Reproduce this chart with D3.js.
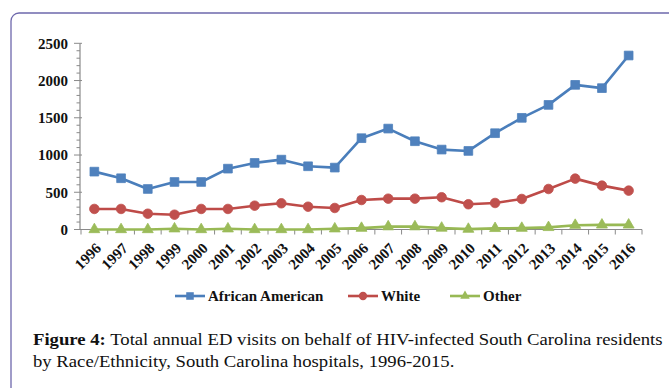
<!DOCTYPE html>
<html>
<head>
<meta charset="utf-8">
<script src="https://cdn.jsdelivr.net/npm/d3@7"></script>
<style>
  html, body { margin: 0; padding: 0; background: #fff; }
  svg { display: block; }
</style>
</head>
<body>
<svg id="chart" width="669" height="388"></svg>
<script>
const years = ["1996","1997","1998","1999","2000","2001","2002","2003","2004","2005","2006","2007","2008","2009","2010","2011","2012","2013","2014","2015","2016"];
const africanAmerican = [777, 688, 544, 638, 638, 817, 894, 938, 849, 831, 1226, 1355, 1185, 1073, 1055, 1293, 1499, 1673, 1942, 1898, 2336];
const white = [276, 276, 212, 199, 276, 276, 320, 352, 306, 289, 396, 414, 414, 433, 339, 356, 410, 544, 683, 589, 522];
const other = [0, 0, 0, 10, 0, 10, 0, 0, 0, 10, 18, 38, 38, 20, 5, 15, 18, 28, 58, 62, 62];
const yTicks = [0, 500, 1000, 1500, 2000, 2500];
const seriesNames = ["African American", "White", "Other"];
const captionBold = "Figure 4:";
const captionLine1 = " Total annual ED visits on behalf of HIV-infected South Carolina residents";
const captionLine2 = "by Race/Ethnicity, South Carolina hospitals, 1996-2015.";

const series = [
  { name: seriesNames[0], values: africanAmerican, line: "#4a7ebb", fill: "#4f81bd", shape: d3.symbolSquare, size: 76 },
  { name: seriesNames[1], values: white, line: "#be4b48", fill: "#c0504d", shape: d3.symbolCircle, size: 72 },
  { name: seriesNames[2], values: other, line: "#98b954", fill: "#9bbb59", shape: d3.symbolTriangle, size: 52 }
];

const svg = d3.select("#chart");
const serif = "'Liberation Serif', 'Times New Roman', serif";
const axisColor = "#8a8a8a";

// frame
svg.append("rect")
  .attr("x", 11).attr("y", 13).attr("width", 720).attr("height", 420)
  .attr("rx", 8).attr("ry", 8)
  .attr("fill", "none").attr("stroke", "#6e68ac").attr("stroke-width", 1.3);

const x = d3.scaleBand().domain(years).range([81, 642]).padding(0);
const y = d3.scaleLinear().domain([0, 2500]).range([229.5, 43.3]);

// y axis line
svg.append("line").attr("x1", 80).attr("x2", 80).attr("y1", y(2500)).attr("y2", y(0))
  .attr("stroke", axisColor).attr("stroke-width", 1.2);
d3.range(0, 2501, 100).forEach(v => {
  const major = v % 500 === 0;
  svg.append("line")
    .attr("x1", major ? 74 : 76.5).attr("x2", major ? 82 : 80)
    .attr("y1", y(v)).attr("y2", y(v))
    .attr("stroke", axisColor).attr("stroke-width", 1);
});
svg.selectAll(".ylab").data(yTicks).enter().append("text")
  .attr("x", 68).attr("y", d => y(d)).attr("dy", "0.35em")
  .attr("text-anchor", "end")
  .attr("font-family", serif).attr("font-weight", "bold").attr("font-size", 15)
  .attr("fill", "#111").text(d => d);

// x axis
svg.append("line").attr("x1", 80).attr("x2", 642).attr("y1", y(0)).attr("y2", y(0))
  .attr("stroke", axisColor).attr("stroke-width", 1.2);
const boundaries = years.map(d => x(d)).concat([x(years[years.length - 1]) + x.bandwidth()]);
svg.selectAll(".xtick").data(boundaries).enter().append("line")
  .attr("x1", d => d).attr("x2", d => d).attr("y1", y(0)).attr("y2", y(0) + 5)
  .attr("stroke", axisColor).attr("stroke-width", 1);
svg.selectAll(".xlab").data(years).enter().append("text")
  .attr("transform", d => `translate(${x(d) + x.bandwidth() / 2 + 4},${y(0) + 16}) rotate(-45)`)
  .attr("text-anchor", "end").attr("dy", "0.35em")
  .attr("font-family", serif).attr("font-weight", "bold").attr("font-size", 15)
  .attr("fill", "#111").text(d => d);

// lines
const cx = i => x(years[i]) + x.bandwidth() / 2;
series.slice().reverse().forEach(s => {
  const line = d3.line().x((d, i) => cx(i)).y(d => y(d));
  svg.append("path").datum(s.values)
    .attr("d", line).attr("fill", "none")
    .attr("stroke", s.line).attr("stroke-width", 2.6).attr("stroke-linejoin", "round");
  svg.selectAll(null).data(s.values).enter().append("path")
    .attr("transform", (d, i) => `translate(${cx(i)},${y(d)})`)
    .attr("d", d3.symbol().type(s.shape).size(s.size))
    .attr("fill", s.fill).attr("stroke", s.fill).attr("stroke-width", 0.8);
});

// legend
const legendX = [175, 348, 450];
series.forEach((s, i) => {
  const g = svg.append("g").attr("transform", `translate(${legendX[i]},296)`);
  g.append("line").attr("x1", 0).attr("x2", 30).attr("y1", 0).attr("y2", 0)
    .attr("stroke", s.line).attr("stroke-width", 2.6);
  g.append("path").attr("transform", "translate(15,0)")
    .attr("d", d3.symbol().type(s.shape).size(s.size * 0.75))
    .attr("fill", s.fill);
  g.append("text").attr("x", 33).attr("y", 0).attr("dy", "0.35em")
    .attr("font-family", serif).attr("font-weight", "bold").attr("font-size", 15)
    .attr("fill", "#111").text(s.name);
});

// caption (slightly horizontally stretched, as in the reference)
const capG = svg.append("g").attr("transform", "translate(33,0) scale(1.1,1)");
const cap = capG.append("text").attr("x", 0).attr("y", 345)
  .attr("font-family", serif).attr("font-size", 17).attr("fill", "#111");
cap.append("tspan").attr("font-weight", "bold").text(captionBold);
cap.append("tspan").text(captionLine1);
capG.append("text").attr("x", 0).attr("y", 367)
  .attr("font-family", serif).attr("font-size", 17).attr("fill", "#111")
  .text(captionLine2);
</script>
</body>
</html>
